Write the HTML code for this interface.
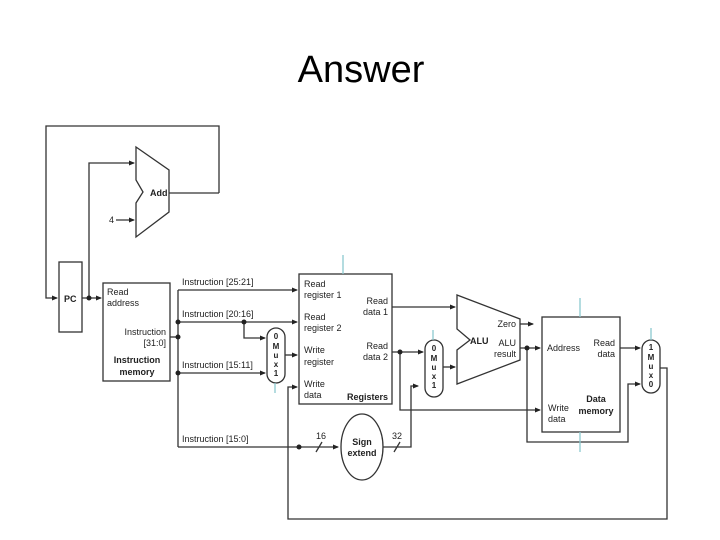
<!DOCTYPE html>
<html><head><meta charset="utf-8"><style>
body{margin:0;width:720px;height:540px;background:#fff;overflow:hidden}
svg{position:absolute;left:0;top:0}
text{font-family:"Liberation Sans",sans-serif;fill:#222}
.s{font-size:9px}.b{font-size:9px;font-weight:bold}
</style></head><body>
<svg width="720" height="540" viewBox="0 0 720 540">
<defs><marker id="a" markerWidth="6" markerHeight="6" refX="5" refY="3" orient="auto" markerUnits="userSpaceOnUse"><path d="M0,0.5 L6,3 L0,5.5z" fill="#222"/></marker></defs>
<text x="361" y="82" text-anchor="middle" style="font-size:38px;fill:#000">Answer</text>
<g fill="none" stroke="#333" stroke-width="1.3">
<polyline points="219,193 219,126 46,126 46,298 57,298" marker-end="url(#a)"/>
<line x1="168" y1="193" x2="219" y2="193"/>
<rect x="59" y="262" width="23" height="70" fill="#fff"/>
<line x1="82" y1="298" x2="101" y2="298" marker-end="url(#a)"/>
<polyline points="89,298 89,163 134,163" marker-end="url(#a)"/>
<line x1="116" y1="220" x2="134" y2="220" marker-end="url(#a)"/>
<polygon points="136,147 169,170 169,212 136,237 136,203 143,192 136,180" fill="#fff"/>
<rect x="103" y="283" width="67" height="98" fill="#fff"/>
<line x1="170" y1="337" x2="178" y2="337"/>
<line x1="178" y1="290" x2="178" y2="447"/>
<line x1="178" y1="290" x2="297" y2="290" marker-end="url(#a)"/>
<line x1="178" y1="322" x2="297" y2="322" marker-end="url(#a)"/>
<polyline points="244,322 244,338 265,338" marker-end="url(#a)"/>
<line x1="178" y1="373" x2="265" y2="373" marker-end="url(#a)"/>
<rect x="267" y="328" width="18" height="55" rx="9" fill="#fff"/>
<line x1="285" y1="355" x2="297" y2="355" marker-end="url(#a)"/>
<rect x="299" y="274" width="93" height="130" fill="#fff"/>
<line x1="178" y1="447" x2="338" y2="447" marker-end="url(#a)"/>
<ellipse cx="362" cy="447" rx="21" ry="33" fill="#fff"/>
<polyline points="383,447 411,447 411,386 418,386" marker-end="url(#a)"/>
<line x1="316" y1="452" x2="322" y2="442"/><line x1="394" y1="452" x2="400" y2="442"/>
<polyline points="660,368 667,368 667,519 288,519 288,387 297,387" marker-end="url(#a)"/>
<line x1="392" y1="307" x2="455" y2="307" marker-end="url(#a)"/>
<line x1="392" y1="352" x2="423" y2="352" marker-end="url(#a)"/>
<polyline points="400,352 400,410 540,410" marker-end="url(#a)"/>
<rect x="425" y="340" width="18" height="57" rx="9" fill="#fff"/>
<line x1="443" y1="367" x2="455" y2="367" marker-end="url(#a)"/>
<polygon points="457,295 520,319 520,360 457,384 457,350 470,340 457,329" fill="#fff"/>
<line x1="520" y1="324" x2="533" y2="324" marker-end="url(#a)"/>
<line x1="520" y1="348" x2="540" y2="348" marker-end="url(#a)"/>
<polyline points="527,348 527,442 628,442 628,384 640,384" marker-end="url(#a)"/>
<rect x="542" y="317" width="78" height="115" fill="#fff"/>
<line x1="620" y1="348" x2="640" y2="348" marker-end="url(#a)"/>
<rect x="642" y="340" width="18" height="53" rx="9" fill="#fff"/>
</g>
<g stroke="#8cc8d0" stroke-width="1.3">
<line x1="343" y1="255" x2="343" y2="274"/><line x1="580" y1="298" x2="580" y2="317"/>
<line x1="580" y1="432" x2="580" y2="452"/><line x1="651" y1="328" x2="651" y2="340"/>
<line x1="433" y1="330" x2="433" y2="340"/><line x1="275" y1="383" x2="275" y2="393"/>
</g>
<g fill="#222">
<circle cx="89" cy="298" r="2.5"/><circle cx="178" cy="322" r="2.5"/><circle cx="178" cy="337" r="2.5"/>
<circle cx="178" cy="373" r="2.5"/><circle cx="244" cy="322" r="2.5"/><circle cx="299" cy="447" r="2.5"/>
<circle cx="400" cy="352" r="2.5"/><circle cx="527" cy="348" r="2.5"/>
</g>
<text class="b" x="150" y="196">Add</text>
<text class="s" x="109" y="223">4</text>
<text class="b" x="64" y="302">PC</text>
<text class="s" x="107" y="295">Read</text><text class="s" x="107" y="306">address</text>
<text class="s" x="166" y="335" text-anchor="end">Instruction</text><text class="s" x="166" y="346" text-anchor="end">[31:0]</text>
<text class="b" x="137" y="363" text-anchor="middle">Instruction</text><text class="b" x="137" y="375" text-anchor="middle">memory</text>
<text class="s" x="182" y="285">Instruction [25:21]</text>
<text class="s" x="182" y="317">Instruction [20:16]</text>
<text class="s" x="182" y="368">Instruction [15:11]</text>
<text class="s" x="182" y="442">Instruction [15:0]</text>
<g class="b" text-anchor="middle" style="font-size:8px"><text x="276" y="339">0</text><text x="276" y="349">M</text><text x="276" y="358">u</text><text x="276" y="367">x</text><text x="276" y="376">1</text>
<text x="434" y="351">0</text><text x="434" y="361">M</text><text x="434" y="370">u</text><text x="434" y="379">x</text><text x="434" y="388">1</text>
<text x="651" y="350">1</text><text x="651" y="360">M</text><text x="651" y="369">u</text><text x="651" y="378">x</text><text x="651" y="387">0</text></g>
<text class="s" x="304" y="287">Read</text><text class="s" x="304" y="298">register 1</text>
<text class="s" x="304" y="320">Read</text><text class="s" x="304" y="331">register 2</text>
<text class="s" x="304" y="353">Write</text><text class="s" x="304" y="365">register</text>
<text class="s" x="304" y="387">Write</text><text class="s" x="304" y="398">data</text>
<text class="s" x="388" y="304" text-anchor="end">Read</text><text class="s" x="388" y="315" text-anchor="end">data 1</text>
<text class="s" x="388" y="349" text-anchor="end">Read</text><text class="s" x="388" y="360" text-anchor="end">data 2</text>
<text class="b" x="388" y="400" text-anchor="end">Registers</text>
<text class="s" x="316" y="439">16</text><text class="s" x="392" y="439">32</text>
<text class="b" x="362" y="445" text-anchor="middle">Sign</text><text class="b" x="362" y="456" text-anchor="middle">extend</text>
<text class="b" x="470" y="344">ALU</text>
<text class="s" x="516" y="327" text-anchor="end">Zero</text>
<text class="s" x="516" y="346" text-anchor="end">ALU</text><text class="s" x="516" y="357" text-anchor="end">result</text>
<text class="s" x="547" y="351">Address</text>
<text class="s" x="615" y="346" text-anchor="end">Read</text><text class="s" x="615" y="357" text-anchor="end">data</text>
<text class="b" x="596" y="402" text-anchor="middle">Data</text><text class="b" x="596" y="414" text-anchor="middle">memory</text>
<text class="s" x="548" y="411">Write</text><text class="s" x="548" y="422">data</text>
</svg>
</body></html>
